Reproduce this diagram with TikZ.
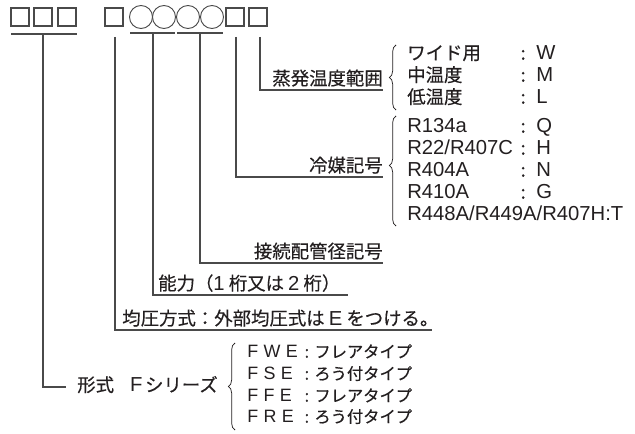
\documentclass[tikz,border=0pt]{standalone}
\usepackage{fontspec}
\setmainfont[FakeBold=0.4]{Noto Sans CJK JP}
\newfontfamily\lat[Scale=1.1]{Liberation Sans}
\usepackage{xcolor}
\definecolor{code-ink}{HTML}{231F20}
\definecolor{code-line}{HTML}{4A4A4A}
\usetikzlibrary{decorations.pathreplacing}

\tikzset{
    cell/.style={draw=code-line, line width=0.8pt, minimum size=13.5pt, inner sep=0pt},
    ring/.style={draw=code-line, circle, line width=0.7pt, minimum size=17.25pt, inner sep=0pt},
    bar/.style={draw=code-line, line width=1.5pt},
    lead/.style={draw=code-line, line width=0.8pt},
    brc/.style={draw=code-ink, line width=0.55pt, decorate, decoration={brace, amplitude=5pt, aspect=#1}},
    brc/.default=0.5,
    lbl/.style={text=code-ink, inner xsep=0pt, inner ysep=0.2em, text height=0.85em, text depth=0.15em},
    row/.style={text=code-ink, inner sep=0pt, text height=0.85em, text depth=0.15em, anchor=west},
    small/.style={font=\fontsize{12.2}{14}\selectfont}
}

\begin{document}
\begin{tikzpicture}[x=0.75pt, y=-0.75pt, font=\fontsize{13.8}{16}\selectfont]

    % Frame
    \useasboundingbox (0, 0) rectangle (635, 434);

    % Code cells
    \node[cell] (b1) at (20, 17) {};
    \node[cell] (b2) at (43, 17) {};
    \node[cell] (b3) at (67, 17) {};
    \node[cell] (b4) at (114, 17) {};
    \node[ring] (c1) at (141, 17) {};
    \node[ring] (c2) at (164, 17) {};
    \node[ring] (c3) at (188, 17) {};
    \node[ring] (c4) at (212, 17) {};
    \node[cell] (b5) at (235, 17) {};
    \node[cell] (b6) at (258, 17) {};

    % Group bars
    \draw[bar] (11, 34) -- (77, 34);
    \draw[bar] (130, 33) -- (175, 33);
    \draw[bar] (177, 33) -- (223, 33);

    % Lead tops
    \coordinate (kindTop) at (43, 34);
    \coordinate (eqTop) at (115, 37);
    \coordinate (capTop) at (153, 33);
    \coordinate (pipeTop) at (200, 33);
    \coordinate (refTop) at (236, 37);
    \coordinate (evapTop) at (260, 37);
    \coordinate (capEnd) at (348, 295);
    \coordinate (eqEnd) at (432, 330);

    % Evaporating temperature
    \node[lbl, anchor=south east] (evap) at (383, 90) {蒸発温度範囲};
    \draw[lead] (evapTop) |- (evap.south east);
    \draw[brc] (396, 110) -- (396, 45);
    \node[row] (evW) at (407, 55) {\makebox[85pt][l]{ワイド用}:\hspace{8pt}{\lat W}};
    \node[row] (evM) at (407, 77) {\makebox[85pt][l]{中温度}:\hspace{8pt}{\lat M}};
    \node[row] (evL) at (407, 99) {\makebox[85pt][l]{低温度}:\hspace{8pt}{\lat L}};

    % Refrigerant
    \node[lbl, anchor=south east] (ref) at (383, 177) {冷媒記号};
    \draw[lead] (refTop) |- (ref.south east);
    \draw[brc=0.55] (396, 226) -- (396, 116);
    \node[row] (refQ) at (407, 128) {\makebox[85pt][l]{\lat R134a}:\hspace{8pt}{\lat Q}};
    \node[row] (refH) at (407, 150) {\makebox[85pt][l]{\lat R22/R407C}:\hspace{8pt}{\lat H}};
    \node[row] (refN) at (407, 172) {\makebox[85pt][l]{\lat R404A}:\hspace{8pt}{\lat N}};
    \node[row] (refG) at (407, 194) {\makebox[85pt][l]{\lat R410A}:\hspace{8pt}{\lat G}};
    \node[row] (refT) at (407, 216) {\lat R448A/R449A/R407H:T};

    % Pipe size
    \node[lbl, anchor=south east] (pipe) at (383, 263) {接続配管径記号};
    \draw[lead] (pipeTop) |- (pipe.south east);

    % Capacity
    \node[lbl, anchor=south west] (cap) at (158, 295) {能力（{\lat 1} 桁又は {\lat 2} 桁）};
    \draw[lead] (capTop) |- (capEnd);

    % Equalizer
    \node[lbl, anchor=south west] (eq) at (122, 330) {均圧方式：外部均圧式は {\lat E} をつける。};
    \draw[lead] (eqTop) |- (eqEnd);

    % Series
    \node[lbl, anchor=west] (kind) at (77, 387) {形式\hspace{12pt}{\lat F}\hspace{2pt}シリーズ};
    \draw[lead, shorten >=8pt] (kindTop) |- (kind.west);
    \draw[brc] (235, 430) -- (235, 343);
    \node[row, small] (fwe) at (247, 353) {\makebox[43pt][l]{\lat F\hspace{4pt}W\hspace{4pt}E}:\hspace{4pt}フレアタイプ};
    \node[row, small] (fse) at (247, 375) {\makebox[43pt][l]{\lat F\hspace{4pt}S\hspace{4pt}E}:\hspace{4pt}ろう付タイプ};
    \node[row, small] (ffe) at (247, 397) {\makebox[43pt][l]{\lat F\hspace{4pt}F\hspace{4pt}E}:\hspace{4pt}フレアタイプ};
    \node[row, small] (fre) at (247, 418) {\makebox[43pt][l]{\lat F\hspace{4pt}R\hspace{4pt}E}:\hspace{4pt}ろう付タイプ};

\end{tikzpicture}
\end{document}
